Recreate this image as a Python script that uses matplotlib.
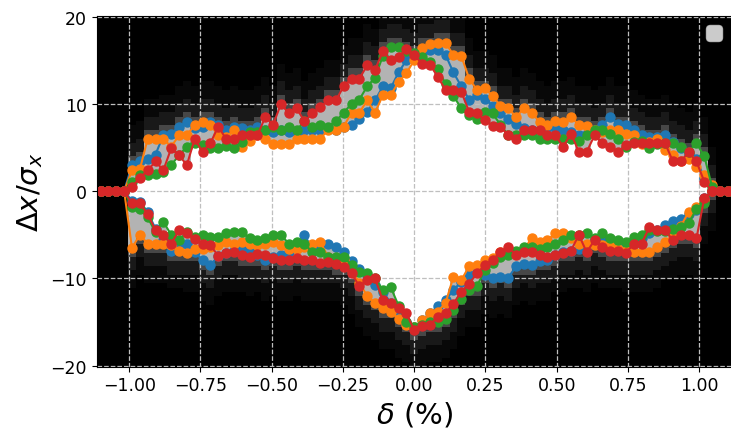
#!/bin/python3

import numpy as np
import matplotlib
matplotlib.use('Agg')
import matplotlib.pyplot as plt

################################################
# data: one point per delta bin
deltaVals = np.linspace(-1.1, 1.1, 81)

blueUp = [0, 0, 0, 0, 3.0, 3.5, 3.7, 4.2, 6.4, 6.6,
          7.4, 7.9, 7.2, 7.4, 7.9, 7.6, 7.0, 7.4, 7.2, 7.0,
          7.4, 7.0, 6.8, 7.0, 6.8, 6.8, 7.0, 7.0, 7.0, 7.2,
          7.0, 7.4, 7.6, 8.3, 9.1, 10.4, 12.0, 11.8, 13.6, 15.0,
          15.5, 15.8, 16.2, 16.2, 15.6, 13.6, 12.0, 10.5, 11.0, 10.6,
          9.8, 9.0, 8.3, 7.7, 7.2, 7.0, 7.0, 7.4, 7.2, 7.0,
          6.8, 6.4, 6.6, 7.0, 7.6, 8.5, 7.7, 7.6, 7.0, 6.4,
          6.2, 6.2, 6.4, 5.6, 5.0, 4.3, 3.7, 1.5, 0, 0, 0]
blueLow = [0, 0, 0, 0, -1.1, -1.2, -2.4, -4.3, -5.6, -6.8,
           -6.2, -6.0, -7.0, -7.9, -8.5, -7.4, -7.1, -6.9, -6.6, -7.0,
           -7.3, -7.9, -7.5, -7.3, -7.0, -6.4, -5.0, -6.6, -6.2, -6.0,
           -6.4, -7.0, -8.0, -8.9, -9.6, -10.8, -11.5, -12.8, -13.8, -15.0,
           -15.6, -14.8, -14.0, -13.2, -12.5, -11.3, -10.4, -9.6, -9.2, -9.6,
           -10.0, -9.8, -9.9, -8.6, -8.3, -8.4, -8.0, -7.9, -7.3, -7.0,
           -6.8, -6.6, -6.4, -5.6, -5.4, -5.6, -6.0, -6.2, -5.8, -5.4,
           -4.8, -4.4, -3.9, -3.4, -3.2, -2.6, -2.2, -0.8, 0, 0, 0]

orangeUp = [0, 0, 0, 0, 2.4, 2.5, 6.0, 6.0, 6.0, 5.1,
            6.4, 6.4, 7.6, 7.9, 7.6, 6.4, 6.2, 7.0, 5.1, 5.8,
            6.4, 6.0, 5.4, 5.4, 5.4, 6.0, 6.0, 6.0, 6.0, 7.0,
            7.0, 7.4, 9.0, 9.0, 10.4, 9.0, 11.0, 11.0, 12.5, 13.5,
            15.0, 16.4, 16.8, 17.0, 17.0, 15.6, 15.5, 12.9, 11.6, 11.8,
            10.9, 9.8, 9.5, 8.5, 9.5, 9.0, 7.9, 7.6, 8.0, 7.9,
            8.5, 7.6, 7.5, 7.0, 6.8, 7.0, 7.0, 6.6, 6.4, 5.4,
            5.6, 6.0, 4.7, 4.1, 3.4, 3.7, 2.8, 1.8, 0.7, 0, 0]
orangeLow = [0, 0, 0, 0, -6.5, -5.0, -6.0, -6.0, -6.0, -6.2,
             -6.8, -7.1, -6.6, -6.6, -6.4, -6.2, -5.8, -6.0, -5.8, -6.0,
             -6.2, -6.0, -5.8, -6.2, -6.6, -6.6, -6.4, -6.0, -5.8, -7.5,
             -7.7, -7.9, -9.0, -10.5, -12.0, -12.8, -13.4, -13.8, -14.6, -15.3,
             -15.6, -14.8, -14.0, -13.8, -12.8, -9.8, -10.2, -8.6, -8.4, -7.9,
             -7.6, -7.0, -7.2, -7.0, -6.6, -5.4, -5.8, -5.6, -4.8, -4.8,
             -5.4, -6.0, -6.0, -6.2, -6.2, -6.0, -6.6, -6.8, -7.0, -7.0,
             -7.0, -6.4, -5.8, -5.0, -4.0, -2.4, -1.8, -1.0, 0, 0, 0]

greenUp = [0, 0, 0, 0, 1.1, 1.8, 1.8, 2.0, 2.2, 3.0,
           4.1, 5.1, 5.5, 5.3, 5.0, 5.0, 5.2, 5.0, 5.6, 6.8,
           6.8, 7.0, 7.4, 7.0, 7.4, 7.0, 8.0, 7.4, 7.6, 7.4,
           8.0, 9.0, 10.0, 10.5, 12.0, 13.0, 15.5, 16.5, 16.5, 16.0,
           15.8, 15.4, 14.8, 14.0, 12.3, 10.9, 9.5, 8.7, 8.3, 9.1,
           8.9, 7.6, 6.4, 6.4, 6.4, 6.4, 6.0, 6.0, 6.0, 6.0,
           6.0, 5.8, 6.4, 7.0, 7.0, 6.6, 6.0, 5.1, 5.6, 5.8,
           5.0, 5.4, 5.5, 5.5, 5.1, 4.5, 5.5, 4.0, 0.5, 0, 0]
greenLow = [0, 0, 0, 0, -1.8, -2.0, -3.0, -4.7, -3.5, -5.0,
            -5.6, -4.7, -5.2, -5.0, -5.3, -5.2, -4.8, -4.7, -4.7, -5.4,
            -5.6, -5.4, -5.0, -5.0, -6.0, -5.8, -6.0, -7.0, -7.0, -7.5,
            -7.5, -7.5, -8.5, -9.2, -9.4, -10.0, -11.3, -11.0, -13.1, -15.0,
            -15.5, -15.3, -15.0, -15.0, -14.6, -13.6, -12.3, -11.3, -10.9, -9.0,
            -8.2, -7.5, -7.3, -6.8, -6.4, -6.4, -6.6, -6.4, -6.0, -5.6,
            -5.0, -5.0, -4.8, -5.4, -4.8, -5.4, -5.6, -5.8, -5.2, -5.0,
            -4.5, -4.6, -4.6, -4.3, -4.1, -3.7, -2.0, -1.4, 0, 0, 0]

redUp = [0, 0, 0, 0, 0.5, 1.5, 2.4, 3.4, 2.4, 4.9,
         4.1, 3.0, 6.0, 4.5, 5.5, 7.4, 6.0, 6.0, 6.4, 6.4,
         6.4, 8.5, 7.6, 10.0, 8.9, 9.5, 8.0, 8.9, 9.6, 10.4,
         10.4, 12.0, 12.9, 12.9, 14.4, 13.9, 16.0, 15.0, 15.4, 16.3,
         15.6, 14.6, 14.5, 13.1, 11.6, 11.6, 11.4, 9.1, 8.9, 8.1,
         7.5, 7.4, 6.4, 6.0, 7.0, 7.0, 7.0, 6.4, 6.4, 5.1,
         6.6, 4.5, 4.5, 6.4, 5.5, 5.1, 4.5, 5.3, 5.5, 5.5,
         5.5, 5.5, 5.5, 3.4, 3.4, 4.5, 3.4, 1.1, 0, 0, 0]
redLow = [0, 0, 0, 0, -1.4, -1.4, -2.6, -4.5, -5.0, -6.0,
          -4.5, -4.8, -5.5, -6.0, -6.2, -7.4, -7.1, -7.0, -7.3, -7.5,
          -7.2, -7.3, -7.6, -7.9, -7.9, -7.7, -7.9, -7.9, -8.2, -8.1,
          -8.3, -8.7, -9.4, -10.9, -10.2, -10.0, -12.5, -12.8, -13.4, -14.0,
          -15.9, -15.4, -15.3, -14.4, -14.0, -12.9, -11.5, -10.6, -9.4, -8.5,
          -7.9, -7.0, -6.4, -7.3, -7.0, -7.0, -7.3, -7.5, -7.3, -7.1,
          -6.8, -5.0, -7.0, -5.6, -6.4, -6.8, -6.8, -7.1, -6.0, -6.0,
          -4.1, -4.5, -4.5, -5.6, -5.0, -5.0, -5.4, -0.8, 0, 0, 0]

seriesUp = [blueUp, orangeUp, greenUp, redUp]
seriesLow = [blueLow, orangeLow, greenLow, redLow]
seriesColors = ['tab:blue', 'tab:orange', 'tab:green', 'tab:red']

################################################
################################################
def buildHistogram(yCenters):

    ups = np.array(seriesUp)
    lows = np.array(seriesLow)
    innerTop, outerTop = ups.min(axis=0), ups.max(axis=0)
    innerBot, outerBot = lows.max(axis=0), lows.min(axis=0)

    hist = np.zeros((len(yCenters), len(deltaVals)))
    for i in range(len(deltaVals)):
        if outerTop[i] - outerBot[i] < 0.5:
            continue
        for j, yc in enumerate(yCenters):
            if innerBot[i] <= yc <= innerTop[i]:
                hist[j, i] = 1.0
            elif outerBot[i] <= yc <= outerTop[i]:
                hist[j, i] = 0.7
            else:
                d = yc - outerTop[i] if yc > 0 else outerBot[i] - yc
                if d < 1.0:
                    hist[j, i] = 0.28
                elif d < 2.5:
                    hist[j, i] = 0.1
                elif d < 4.5:
                    hist[j, i] = 0.035
    return hist

################################################
################################################
def makePlots():

    fig = plt.figure(figsize=(7.31, 4.31), dpi=100)
    ax = fig.add_axes([0.1323, 0.1469, 0.8687, 0.8144])

    #histogram background
    xEdges = np.linspace(-1.11375, 1.11375, 82)
    yEdges = np.linspace(-20.1, 20.1, 81)
    yCenters = 0.5 * (yEdges[1:] + yEdges[:-1])
    hist = buildHistogram(yCenters)
    ax.pcolormesh(xEdges, yEdges, hist, cmap='gray', vmin=0, vmax=1)

    #aperture boundaries
    for up, low, col in zip(seriesUp, seriesLow, seriesColors):
        ax.plot(deltaVals, up, '-o', color=col, markersize=6.5, linewidth=1.5)
        ax.plot(deltaVals, low, '-o', color=col, markersize=6.5, linewidth=1.5)

    ax.set_xlim(-1.11375, 1.11375)
    ax.set_ylim(-20.1, 20.1)
    ax.set_xticks([-1.0, -0.75, -0.5, -0.25, 0.0, 0.25, 0.5, 0.75, 1.0])
    ax.set_yticks([-20, -10, 0, 10, 20])
    ax.tick_params(labelsize=12.5)
    ax.grid(True, linestyle='--', color='0.75', linewidth=0.9)

    ax.set_xlabel(r'$\delta$ (%)', fontsize=21)
    ax.set_ylabel(r'$\Delta x/\sigma_x$', fontsize=21)

    ax.legend(handles=[], loc='upper right', fontsize=14)

    fig.savefig('out.png', dpi=100)

#############################################
if __name__ == '__main__':
    makePlots()
